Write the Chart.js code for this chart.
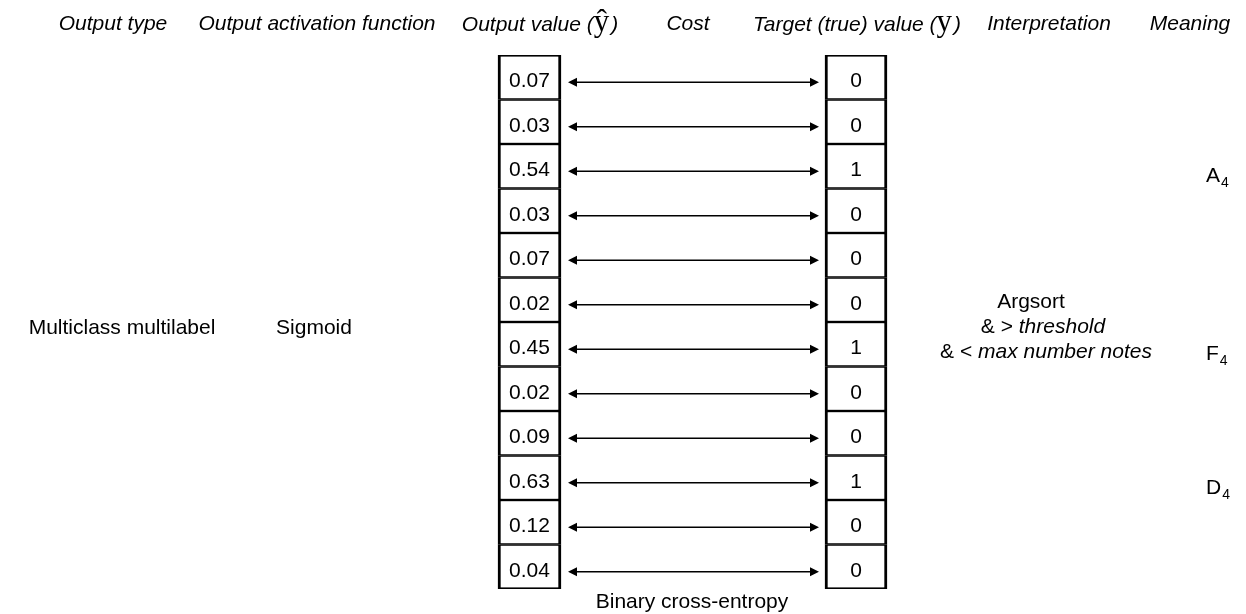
<!DOCTYPE html>
<html>
<head>
<meta charset="utf-8">
<script src="https://cdn.jsdelivr.net/npm/chart.js"></script>
<style>
  html, body { margin: 0; padding: 0; background: #fff; }
  #wrap { width: 1246px; height: 614px; position: relative; }
</style>
</head>
<body>
<div id="wrap"><canvas id="diagram"></canvas></div>
<script>
// values per output row
const outputValues = [0.07, 0.03, 0.54, 0.03, 0.07, 0.02, 0.45, 0.02, 0.09, 0.63, 0.12, 0.04];
const targetValues = [0, 0, 1, 0, 0, 0, 1, 0, 0, 1, 0, 0];
const rowLabels = outputValues.map((v, i) => 'row ' + (i + 1));

// meaning column (notes on the active rows)
const meaningRows = [2, 6, 9];
const meaningNotes = ['A', 'F', 'D'];
const meaningOctave = '4';

const headers = ['Output type', 'Output activation function', 'Output value (', 'Cost',
  'Target (true) value (', 'Interpretation', 'Meaning'];
const outputType = 'Multiclass multilabel';
const activation = 'Sigmoid';
const costName = 'Binary cross-entropy';
const interpretation = ['Argsort', '& > ', 'threshold', '& < ', 'max number notes'];

// layout, in x-scale units (same as pixels here)
const OUT_BOX = [498, 561];
const TGT_BOX = [825, 887];
const ARROW = [568, 819];
const TEXT_DROP = 4; // row text sits a little under the box middle

const SANS = '"Liberation Sans", Arial, sans-serif';
const SERIF = '"Liberation Serif", "Times New Roman", serif';

function arrowHead(ctx, x, y, dir) {
  ctx.beginPath();
  ctx.moveTo(x, y);
  ctx.lineTo(x - dir * 9, y - 4.5);
  ctx.lineTo(x - dir * 9, y + 4.5);
  ctx.closePath();
  ctx.fill();
}

const annotate = {
  id: 'annotate',
  afterDatasetsDraw(chart) {
    const ctx = chart.ctx;
    const xs = chart.scales.x;
    const ys = chart.scales.y;
    ctx.save();
    ctx.fillStyle = '#000';
    ctx.strokeStyle = '#000';

    // outer frame top / bottom so they match the dividers
    [0, 1].forEach(d => {
      const bars = chart.getDatasetMeta(d).data;
      const first = bars[0], last = bars[bars.length - 1];
      const left = Math.min(first.x, first.base), right = Math.max(first.x, first.base);
      ctx.fillRect(left, first.y - first.height / 2, right - left, 1.5);
      ctx.fillRect(left, last.y + last.height / 2 - 1.5, right - left, 1.5);
    });

    // values in boxes + arrows
    ctx.font = '21px ' + SANS;
    ctx.textAlign = 'center';
    ctx.textBaseline = 'middle';
    const ox = xs.getPixelForValue((OUT_BOX[0] + OUT_BOX[1]) / 2);
    const tx = xs.getPixelForValue((TGT_BOX[0] + TGT_BOX[1]) / 2);
    const a0 = xs.getPixelForValue(ARROW[0]);
    const a1 = xs.getPixelForValue(ARROW[1]);
    outputValues.forEach((v, i) => {
      const y = ys.getPixelForValue(i) + TEXT_DROP;
      ctx.fillText(v.toFixed(2), ox, y);
      ctx.fillText(String(targetValues[i]), tx, y);
      ctx.lineWidth = 1.5;
      ctx.beginPath();
      ctx.moveTo(a0 + 6, y + 1);
      ctx.lineTo(a1 - 6, y + 1);
      ctx.stroke();
      arrowHead(ctx, a0, y + 1, -1);
      arrowHead(ctx, a1, y + 1, 1);
    });

    // headers
    const hy = 24;
    const italic = 'italic 21px ' + SANS;
    ctx.font = italic;
    ctx.fillText(headers[0], 113, hy);
    ctx.fillText(headers[1], 317, hy);
    ctx.fillText(headers[3], 688, hy);
    ctx.fillText(headers[5], 1049, hy);
    ctx.fillText(headers[6], 1190, hy);

    // headers with serif y symbols
    function symbolHeader(text, sym, cx) {
      ctx.font = italic;
      const w1 = ctx.measureText(text).width;
      const w3 = ctx.measureText(')').width;
      ctx.font = '31px ' + SERIF;
      const w2 = ctx.measureText(sym).width;
      let x = cx - (w1 + w2 + w3 + 2) / 2;
      ctx.textAlign = 'left';
      ctx.textBaseline = 'alphabetic';
      ctx.font = italic;
      ctx.fillText(text, x, hy + 7);
      x += w1;
      ctx.font = '31px ' + SERIF;
      ctx.fillText(sym, x, hy + 7);
      x += w2 + 2;
      ctx.font = italic;
      ctx.fillText(')', x, hy + 7);
      ctx.textAlign = 'center';
      ctx.textBaseline = 'middle';
    }
    symbolHeader(headers[2], '\u0177', 540);
    symbolHeader(headers[4], 'y', 857);

    // left columns, centred between rows 6 and 7
    const midY = (ys.getPixelForValue(5) + ys.getPixelForValue(6)) / 2 + 6;
    ctx.font = '21px ' + SANS;
    ctx.fillText(outputType, 122, midY);
    ctx.fillText(activation, 314, midY);

    // cost name under the arrows
    ctx.fillText(costName, 692, 602);

    // interpretation block
    ctx.fillText(interpretation[0], 1031, midY - 26);
    function mixedLine(plain, it, cx, y) {
      ctx.font = '21px ' + SANS;
      const w1 = ctx.measureText(plain).width;
      ctx.font = italic;
      const w2 = ctx.measureText(it).width;
      const x = cx - (w1 + w2) / 2;
      ctx.textAlign = 'left';
      ctx.font = '21px ' + SANS;
      ctx.fillText(plain, x, y);
      ctx.font = italic;
      ctx.fillText(it, x + w1, y);
      ctx.textAlign = 'center';
    }
    mixedLine(interpretation[1], interpretation[2], 1043, midY - 1);
    mixedLine(interpretation[3], interpretation[4], 1046, midY + 24);

    // meaning notes
    meaningRows.forEach((r, k) => {
      const y = ys.getPixelForValue(r) + 16;
      ctx.textAlign = 'left';
      ctx.textBaseline = 'alphabetic';
      ctx.font = '21px ' + SANS;
      ctx.fillText(meaningNotes[k], 1206, y);
      const w = ctx.measureText(meaningNotes[k]).width;
      ctx.font = '14px ' + SANS;
      ctx.fillText(meaningOctave, 1206 + w + 1, y + 5);
    });
    ctx.restore();
  }
};

new Chart(document.getElementById('diagram'), {
  type: 'bar',
  data: {
    labels: rowLabels,
    datasets: [{
      label: 'Output value',
      data: outputValues.map(() => OUT_BOX),
      backgroundColor: '#fff',
      borderColor: '#000',
      borderWidth: { top: 1.5, bottom: 1.5, left: 3, right: 3 },
      borderSkipped: false
    }, {
      label: 'Target value',
      data: targetValues.map(() => TGT_BOX),
      backgroundColor: '#fff',
      borderColor: '#000',
      borderWidth: { top: 1.5, bottom: 1.5, left: 3, right: 3 },
      borderSkipped: false
    }]
  },
  options: {
    indexAxis: 'y',
    responsive: true,
    maintainAspectRatio: false,
    animation: false,
    grouped: false,
    barPercentage: 1,
    categoryPercentage: 1,
    layout: { padding: { top: 55, bottom: 25, left: 0, right: 0 } },
    scales: {
      x: { type: 'linear', min: 0, max: 1246, display: false },
      y: { type: 'category', display: false, offset: true }
    },
    plugins: {
      legend: { display: false },
      tooltip: { enabled: false },
      title: { display: false }
    }
  },
  plugins: [annotate]
});
</script>
</body>
</html>
